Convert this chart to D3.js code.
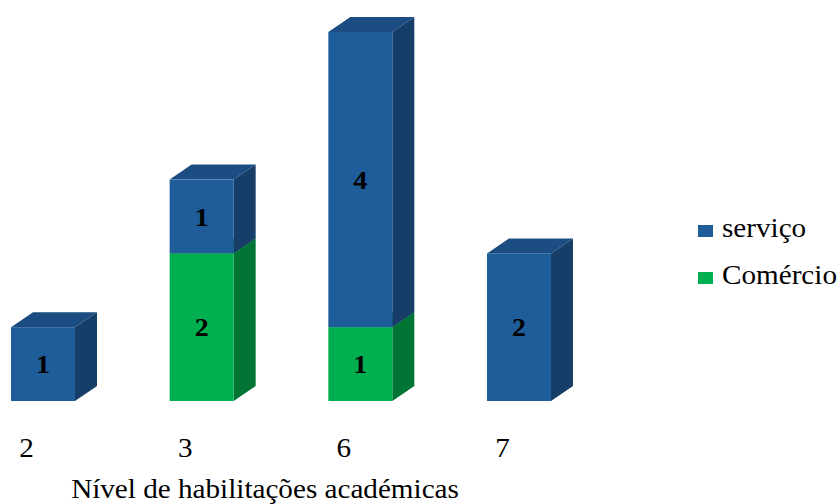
<!DOCTYPE html>
<html>
<head>
<meta charset="utf-8">
<script src="https://cdn.jsdelivr.net/npm/d3@7/dist/d3.min.js"></script>
<style>
  html, body { margin: 0; padding: 0; background: #fff; }
  svg { display: block; }
</style>
</head>
<body>
<svg id="chart" width="840" height="504"></svg>
<script>
// Academic qualification level vs. sector counts
const categories = ["2", "3", "6", "7"];
const seriesNames = ["Comércio", "serviço"];
const comercio = [0, 2, 1, 0];
const servico = [1, 1, 4, 2];
const axisTitle = "Nível de habilitações académicas";

const FONT = "'Liberation Serif', 'Times New Roman', serif";
const SX = 1.08; // slightly wide text
const svg = d3.select("#chart");

const rows = categories.map((c, i) => ({ cat: c, "Comércio": comercio[i], "serviço": servico[i] }));
const stack = d3.stack().keys(seriesNames)(rows);

const x = d3.scalePoint().domain(categories).range([43, 519]);
const y = d3.scaleLinear().domain([0, 5]).range([401, 32]);

const barW = 64;
const dx = 22, dy = -15;

const palette = {
  "serviço": { front: "#1F5C9A", top: "#1B4C82", side: "#173D69" },
  "Comércio": { front: "#00B050", top: "#009442", side: "#017533" }
};

// text placed at (px, py) and widened horizontally by SX
function wideText(parent, px, py, str, opts = {}) {
  const t = parent.append("g")
    .attr("transform", `translate(${px},${py}) scale(${SX},1)`)
    .append("text")
    .attr("x", 0).attr("y", 0)
    .attr("font-family", FONT)
    .attr("font-size", opts.size || 27)
    .attr("font-weight", opts.weight || "normal")
    .attr("text-anchor", opts.anchor || "start")
    .attr("fill", "#000")
    .text(str);
  return t;
}

const g = svg.append("g");

// draw stacks bottom to top so upper segments cover lower top faces
seriesNames.forEach(key => {
  const layer = stack.find(s => s.key === key);
  layer.forEach((d, i) => {
    const v = d[1] - d[0];
    if (v <= 0) return;
    const cx = x(categories[i]);
    const x0 = cx - barW / 2, x1 = cx + barW / 2;
    const yTop = y(d[1]), yBot = y(d[0]);
    const c = palette[key];
    // side face
    g.append("path")
      .attr("d", `M${x1},${yBot} L${x1 + dx},${yBot + dy} L${x1 + dx},${yTop + dy} L${x1},${yTop} Z`)
      .attr("fill", c.side);
    // top face
    g.append("path")
      .attr("d", `M${x0},${yTop} L${x0 + dx},${yTop + dy} L${x1 + dx},${yTop + dy} L${x1},${yTop} Z`)
      .attr("fill", c.top);
    // front face
    g.append("rect")
      .attr("x", x0).attr("y", yTop)
      .attr("width", barW).attr("height", yBot - yTop)
      .attr("fill", c.front);
    // value label
    wideText(g, cx, (yTop + yBot) / 2 + 9, v, { size: 26, weight: "bold", anchor: "middle" });
  });
});

// category labels
const axis = svg.append("g").attr("transform", "translate(-17,457)")
  .call(d3.axisBottom(x).tickSize(0).tickPadding(0));
axis.select(".domain").remove();
axis.attr("font-family", FONT).attr("font-size", 27);
axis.selectAll("text")
  .attr("font-family", FONT)
  .attr("font-size", 27).attr("fill", "#000")
  .attr("y", 0).attr("dy", null)
  .attr("transform", `scale(${SX},1)`);

wideText(svg, 265, 498, axisTitle, { anchor: "middle" });

// legend
const legendItems = [
  { name: "serviço", color: palette["serviço"].front, y: 237 },
  { name: "Comércio", color: palette["Comércio"].front, y: 284 }
];
const lg = svg.append("g");
legendItems.forEach(it => {
  lg.append("rect").attr("x", 698).attr("y", it.y - 12).attr("width", 15).attr("height", 12).attr("fill", it.color);
  wideText(lg, 722, it.y, it.name);
});
</script>
</body>
</html>
